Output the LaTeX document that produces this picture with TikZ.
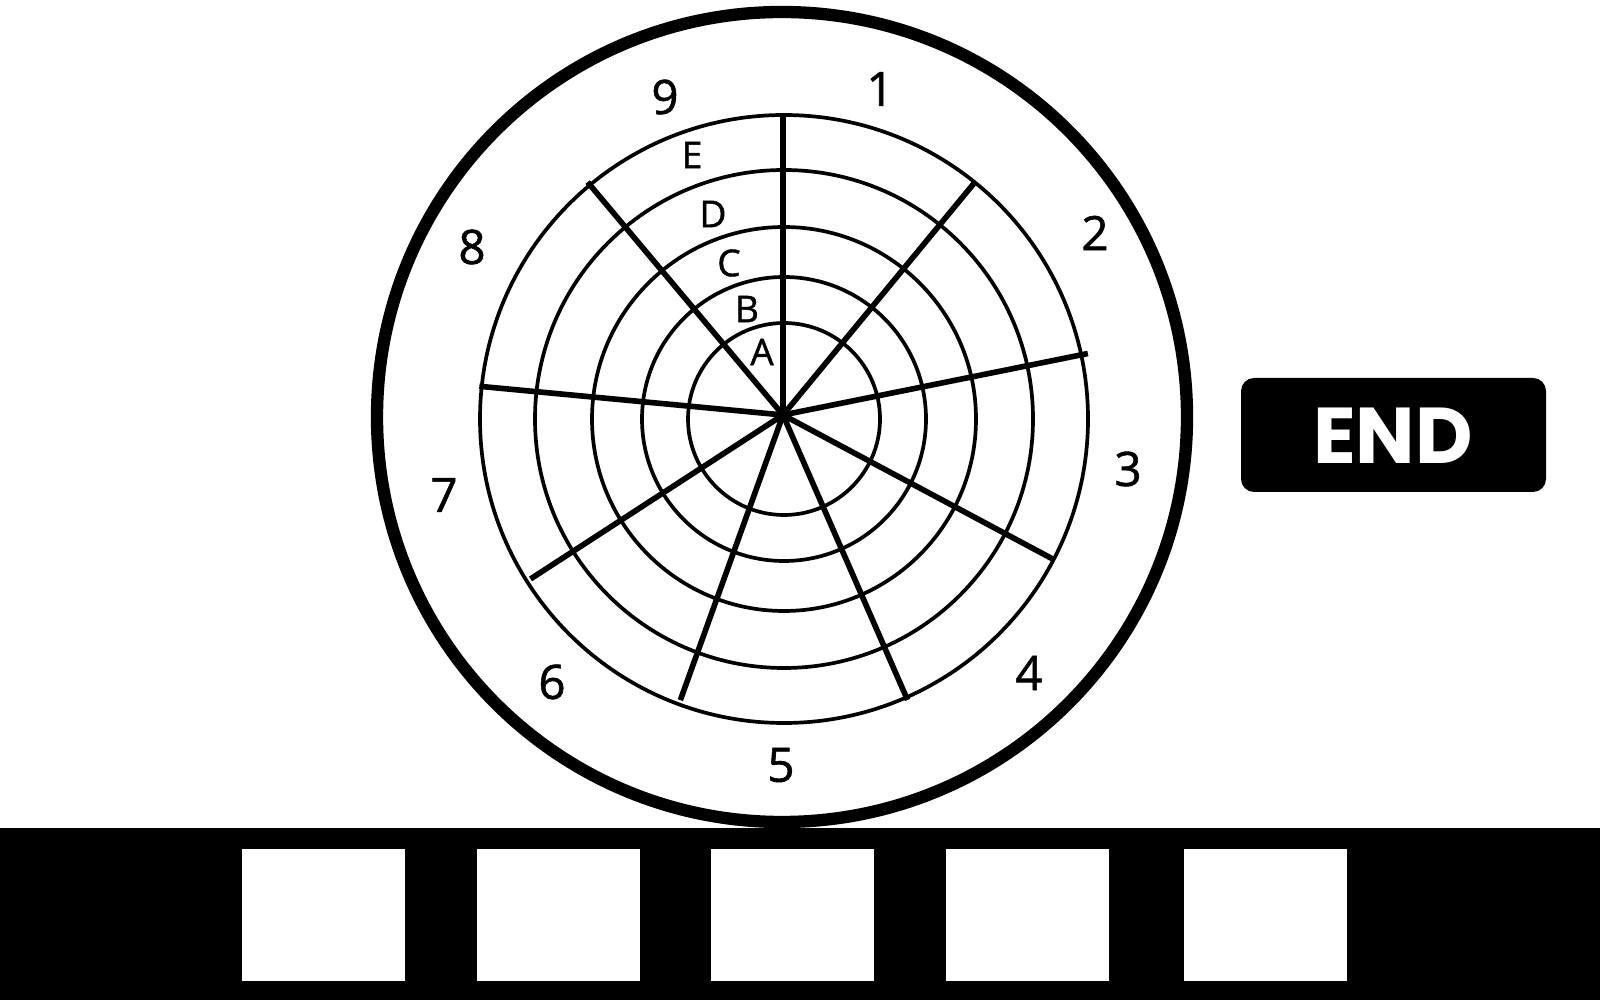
\documentclass[tikz,border=0pt]{standalone}
\usepackage{fontspec}
\setmainfont{Open Sans}
\newfontfamily\wheelfont{Open Sans}[BoldFont={Open Sans}, BoldFeatures={FakeBold=1.2}]
\newfontfamily\endfont{Poppins}
\usepackage{tikz}
\usetikzlibrary{positioning}

\begin{document}
\begin{tikzpicture}[
    x=0.01cm, y=0.01cm,
    rim/.style={draw=black, line width=3.5pt},
    ring/.style={draw=black, line width=1.05pt},
    spoke/.style={draw=black, line width=1.6pt},
    numlbl/.style={font=\wheelfont\bfseries\fontsize{13.5}{15}\selectfont},
    ltr/.style={font=\wheelfont\bfseries\fontsize{10.5}{12}\selectfont},
    endbox/.style={fill=black, rounded corners=0.13cm},
    slot/.style={fill=white},
]
\useasboundingbox (0,0) rectangle (1600,1000);
% wheel
\coordinate (hub) at (783,585);
\coordinate (ctr) at (784,581);
\draw[rim] (782,583) circle[radius=405];
\draw[ring] (ctr) circle[radius=96];
\draw[ring] (ctr) circle[radius=142];
\draw[ring] (ctr) circle[radius=192];
\draw[ring] (ctr) circle[radius=249];
\draw[ring] (ctr) circle[radius=304];
\draw[spoke] (hub) -- ++(90:299);
\draw[spoke] (hub) -- ++(50.5:300);
\draw[spoke] (hub) -- ++(11.4:311);
\draw[spoke] (hub) -- ++(-28.1:305);
\draw[spoke] (hub) -- ++(-66.4:311);
\draw[spoke] (hub) -- ++(-109.8:303);
\draw[spoke] (hub) -- ++(-147:301);
\draw[spoke] (hub) -- ++(174.6:305);
\draw[spoke] (hub) -- ++(130:304);
% sector numbers
\node[numlbl] (n1) at (880,911) {1};
\node[numlbl] (n2) at (1095,767) {2};
\node[numlbl] (n3) at (1128,531) {3};
\node[numlbl] (n4) at (1029,327) {4};
\node[numlbl] (n5) at (781,235) {5};
\node[numlbl] (n6) at (552,318) {6};
\node[numlbl] (n7) at (444,505) {7};
\node[numlbl] (n8) at (472,753) {8};
\node[numlbl] (n9) at (665,903) {9};
% ring letters
\node[ltr] (la) at (762,648) {A};
\node[ltr] (lb) at (747,691) {B};
\node[ltr] (lc) at (729,737) {C};
\node[ltr] (ld) at (713,786) {D};
\node[ltr] (le) at (692,845) {E};
% end button
\fill[endbox] (1241,508) rectangle (1546,622);
\node[font=\endfont\bfseries\fontsize{22.5}{25}\selectfont, text=white] (endtxt) at (1393,564) {END};
% bottom strip
\fill[black] (0,0) rectangle (1600,172);
\fill[slot] (242,19) rectangle (405,151);
\fill[slot] (477,19) rectangle (640,151);
\fill[slot] (711,19) rectangle (874,151);
\fill[slot] (946,19) rectangle (1109,151);
\fill[slot] (1184,19) rectangle (1347,151);
\end{tikzpicture}
\end{document}
